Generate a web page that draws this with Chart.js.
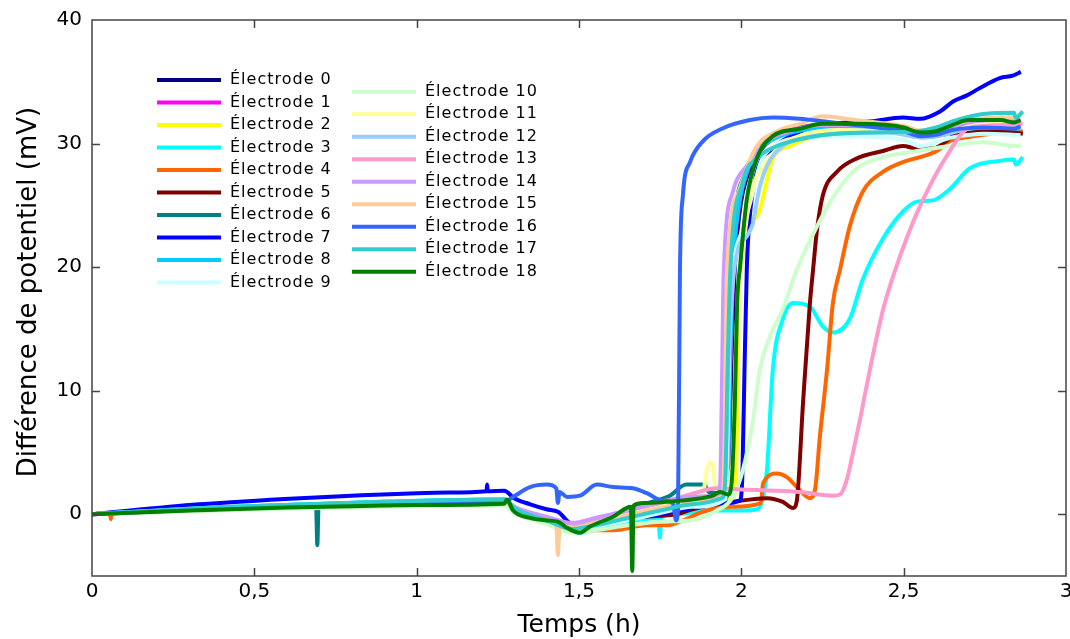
<!DOCTYPE html>
<html lang="fr">
<head>
<meta charset="utf-8">
<title>Différence de potentiel</title>
<script src="https://cdn.jsdelivr.net/npm/chart.js@4.4.1/dist/chart.umd.min.js"></script>
<style>
  html, body { margin: 0; padding: 0; background: #fff; }
  .wrap { position: relative; width: 1070px; height: 639px; }
</style>
</head>
<body>
<div class="wrap"><canvas id="chart"></canvas></div>
<script>
/* =========================
   DATA  [temps (h), mV]
========================= */
const xTicks = [0, 0.5, 1, 1.5, 2, 2.5, 3];
const yTicks = [0, 10, 20, 30, 40];

const e0 = [[0,0],[0.3,0.4],[0.6,0.65],[0.9,0.85],[1.27,1.1],[1.3,0.5],[1.4,-0.5],[1.48,-1.1],[1.55,-0.8],[1.65,-0.2],[1.75,0.4],[1.85,0.9],[1.95,1.3],[1.962,2.5],[1.97,12],[1.978,19],[1.995,24.5],[2.02,27.5],[2.06,29.5],[2.12,30.7],[2.25,31.4],[2.4,31.3],[2.5,31.1],[2.56,30.7],[2.62,30.9],[2.7,31.5],[2.8,31.6],[2.86,31.5]];
const e1 = [[0,0],[0.3,0.35],[0.6,0.6],[0.9,0.8],[1.27,1.0],[1.3,0.4],[1.4,-0.6],[1.48,-1.2],[1.55,-0.8],[1.65,-0.3],[1.75,0.4],[1.85,0.9],[1.94,1.3],[1.958,2.5],[1.966,12],[1.974,19],[1.99,24.5],[2.015,27.5],[2.06,29.7],[2.12,30.8],[2.25,31.5],[2.4,31.4],[2.5,31.2],[2.56,30.8],[2.62,31.0],[2.7,31.7],[2.8,31.8],[2.86,31.7]];
const e2 = [[0,0],[0.3,0.4],[0.6,0.7],[0.9,0.9],[1.27,1.2],[1.3,0.5],[1.4,-0.4],[1.48,-1.0],[1.55,-0.7],[1.65,-0.1],[1.75,0.5],[1.85,0.9],[1.96,1.2],[1.982,1.8],[1.987,8],[1.993,19],[2.048,24.1],[2.097,28.8],[2.15,29.8],[2.25,30.8],[2.4,31.2],[2.5,31.1],[2.56,30.6],[2.62,30.9],[2.7,31.6],[2.8,31.8],[2.86,31.7]];
const e3 = [[0,0],[0.3,0.45],[0.6,0.75],[1.0,1.1],[1.27,1.2],[1.3,0.5],[1.4,-0.6],[1.45,-1.2],[1.5,-1.5],[1.55,-1.2],[1.6,-0.8],[1.7,-0.4],[1.745,-0.3],[1.749,-1.9],[1.753,-0.2],[1.8,0.0],[1.9,0.3],[2.0,0.3],[2.05,0.4],[2.064,1.1],[2.079,3.6],[2.097,11.7],[2.128,15.8],[2.159,17.1],[2.211,16.8],[2.251,15.2],[2.282,14.7],[2.334,15.8],[2.374,19],[2.436,22.3],[2.498,24.5],[2.541,25.3],[2.59,25.4],[2.642,26.3],[2.704,28],[2.796,28.6],[2.84,28.7],[2.845,28.3],[2.867,28.9]];
const e4 = [[0,0],[0.055,0.1],[0.058,-0.4],[0.062,0.1],[0.3,0.3],[0.6,0.55],[0.9,0.75],[1.27,0.9],[1.3,0.3],[1.4,-0.6],[1.45,-1.2],[1.503,-1.4],[1.55,-1.3],[1.605,-1.3],[1.709,-0.9],[1.77,-0.9],[1.811,-0.6],[1.872,0.1],[1.925,0.5],[1.974,0.6],[2.06,0.9],[2.067,2.5],[2.11,3.3],[2.14,3.0],[2.171,2.2],[2.211,1.3],[2.227,2.0],[2.242,6.3],[2.264,11.7],[2.282,17.1],[2.304,19.8],[2.334,23.3],[2.374,26.1],[2.436,27.7],[2.498,28.5],[2.55,28.9],[2.602,29.4],[2.642,30.2],[2.695,30.5],[2.8,30.9],[2.867,31.0]];
const e5 = [[0,0],[0.3,0.35],[0.6,0.6],[0.9,0.8],[1.27,1.0],[1.3,0.3],[1.4,-0.6],[1.48,-1.1],[1.55,-0.9],[1.6,-0.5],[1.7,-0.2],[1.8,0.0],[1.85,0.4],[1.974,1.0],[2.079,1.3],[2.128,1.0],[2.159,0.5],[2.171,1.1],[2.19,9],[2.211,17],[2.221,19.8],[2.233,23],[2.251,25.8],[2.294,27.7],[2.356,28.8],[2.436,29.4],[2.498,29.8],[2.541,29.6],[2.59,29.6],[2.682,31],[2.787,31],[2.867,30.8]];
const e6 = [[0,0],[0.3,0.4],[0.6,0.7],[0.69,0.75],[0.694,-2.5],[0.698,0.75],[0.9,0.9],[1.27,1.1],[1.3,0.5],[1.4,-0.5],[1.5,-1.1],[1.6,-0.3],[1.7,0.8],[1.78,1.5],[1.83,2.4],[1.885,2.4],[1.9,1.8],[1.95,1.7],[1.958,5],[1.965,17],[1.98,24],[2.01,27.5],[2.06,29.8],[2.12,30.8],[2.25,31.3],[2.45,31.2],[2.55,30.6],[2.65,31.3],[2.75,31.7],[2.86,31.8]];
const e7 = [[0,0],[0.33,0.8],[0.64,1.3],[1.0,1.7],[1.1,1.75],[1.215,1.85],[1.217,2.4],[1.219,1.85],[1.27,1.9],[1.3,1.3],[1.35,0.8],[1.4,0.4],[1.435,0.2],[1.48,-0.8],[1.55,-0.8],[1.65,-0.4],[1.75,0.0],[1.85,0.5],[1.95,0.9],[1.995,1.1],[2.003,3],[2.01,12],[2.017,20],[2.026,24.1],[2.048,27.7],[2.097,29.6],[2.159,30.7],[2.25,31.5],[2.4,31.8],[2.498,32.1],[2.55,32.0],[2.612,32.6],[2.652,33.4],[2.695,33.9],[2.735,34.5],[2.796,35.3],[2.836,35.5],[2.861,35.8]];
const e8 = [[0,0],[0.3,0.45],[0.6,0.75],[0.9,1.0],[1.27,1.2],[1.3,0.6],[1.4,-0.5],[1.48,-1.2],[1.55,-0.9],[1.65,-0.3],[1.75,0.3],[1.85,0.8],[1.95,1.2],[1.958,2.5],[1.965,12],[1.972,19],[1.99,24.5],[2.015,27.5],[2.06,29.6],[2.12,30.6],[2.25,31.2],[2.4,31.1],[2.5,30.9],[2.56,30.5],[2.62,30.7],[2.7,31.2],[2.8,31.3],[2.86,31.2]];
const e9 = [[0,0],[0.3,0.3],[0.6,0.55],[0.9,0.7],[1.27,0.9],[1.3,0.3],[1.4,-0.7],[1.48,-1.3],[1.55,-1.0],[1.65,-0.5],[1.75,0.1],[1.85,0.6],[1.95,1.2],[1.957,5],[1.965,17],[1.98,21],[2.0,22.8],[2.03,25.5],[2.06,28.5],[2.1,29.8],[2.2,30.5],[2.3,30.6],[2.5,30.3],[2.55,29.8],[2.65,30.5],[2.75,30.8],[2.86,30.7]];
const e10 = [[0,0],[0.3,0.25],[0.6,0.45],[0.9,0.6],[1.27,0.7],[1.3,0.1],[1.4,-0.8],[1.48,-1.5],[1.55,-1.3],[1.65,-0.9],[1.75,-0.6],[1.842,-0.5],[1.925,0.3],[1.974,1.4],[2.005,3.6],[2.036,7.6],[2.057,11.7],[2.088,14.4],[2.128,16.6],[2.171,19.8],[2.233,23.3],[2.294,26.1],[2.356,28],[2.436,28.9],[2.541,29.4],[2.642,29.8],[2.744,30.1],[2.849,29.8],[2.861,29.9]];
const e11 = [[0,0],[0.3,0.35],[0.6,0.65],[0.9,0.85],[1.27,1.1],[1.3,0.5],[1.4,-0.4],[1.48,-1.0],[1.55,-0.6],[1.65,0.0],[1.75,0.7],[1.85,1.2],[1.88,1.4],[1.894,3.6],[1.903,4.2],[1.912,4.0],[1.92,2.2],[1.95,2.0],[1.972,4],[1.985,15],[2.0,20],[2.026,25.5],[2.07,28.2],[2.12,29.8],[2.2,30.8],[2.3,31.1],[2.45,31.0],[2.55,30.6],[2.62,30.9],[2.7,31.5],[2.8,31.7],[2.86,31.6]];
const e12 = [[0,0],[0.3,0.4],[0.6,0.7],[0.9,0.9],[1.27,1.1],[1.3,0.5],[1.4,-0.5],[1.48,-1.1],[1.55,-0.7],[1.65,-0.1],[1.75,0.5],[1.85,0.9],[1.93,1.2],[1.95,3],[1.96,12],[1.975,19],[1.99,21.5],[2.017,22.5],[2.035,23.5],[2.055,26.3],[2.079,28.2],[2.128,29.8],[2.2,30.5],[2.3,30.8],[2.45,30.9],[2.55,30.5],[2.62,30.7],[2.7,31.2],[2.8,31.4],[2.86,31.3]];
const e13 = [[0,0],[0.3,0.35],[0.6,0.6],[0.9,0.8],[1.27,1.0],[1.3,0.5],[1.4,-0.3],[1.48,-0.8],[1.55,-0.4],[1.65,0.3],[1.75,0.9],[1.842,1.6],[1.925,2.1],[2.0,2.0],[2.18,1.8],[2.282,1.5],[2.304,1.6],[2.325,2.8],[2.34,4.5],[2.365,7.6],[2.396,11.7],[2.436,16.5],[2.458,18.5],[2.528,23.6],[2.581,26.6],[2.633,29],[2.695,31.2],[2.735,31.4],[2.8,31.5],[2.867,31.6]];
const e14 = [[0,0],[0.3,0.4],[0.6,0.7],[0.9,0.9],[1.27,1.1],[1.3,0.6],[1.4,-0.2],[1.48,-0.7],[1.55,-0.3],[1.65,0.3],[1.75,1.0],[1.85,1.4],[1.925,1.5],[1.935,2.5],[1.94,10],[1.945,19],[1.974,26.1],[2.017,28.2],[2.079,30.2],[2.15,31],[2.25,31.5],[2.4,31.4],[2.5,31.2],[2.56,30.8],[2.62,31.0],[2.7,31.7],[2.8,31.9],[2.86,31.8]];
const e15 = [[0,0],[0.3,0.35],[0.6,0.65],[0.9,0.85],[1.27,1.0],[1.3,0.4],[1.4,-0.5],[1.43,-0.8],[1.435,-3.3],[1.44,-0.9],[1.48,-1.1],[1.55,-0.7],[1.65,-0.1],[1.75,0.5],[1.85,1.0],[1.94,1.4],[1.948,5],[1.955,19],[1.99,26],[2.043,29.6],[2.11,31],[2.18,31.6],[2.251,32.2],[2.35,31.9],[2.45,31.6],[2.5,31.4],[2.56,31.0],[2.62,31.2],[2.7,31.9],[2.8,32.1],[2.86,32.1]];
const e16 = [[0,0],[0.3,0.35],[0.6,0.6],[0.9,0.8],[1.27,1.0],[1.297,1.4],[1.349,2.2],[1.401,2.4],[1.43,2.1],[1.435,0.9],[1.44,1.8],[1.463,1.4],[1.503,1.5],[1.555,2.4],[1.605,2.2],[1.666,2.1],[1.709,1.7],[1.758,1.1],[1.789,0.9],[1.799,-0.5],[1.805,0.5],[1.811,19.8],[1.82,25.8],[1.842,28.5],[1.882,30.2],[1.94,31.2],[2.026,31.9],[2.097,32.1],[2.18,32],[2.251,31.8],[2.35,31.5],[2.45,31.2],[2.5,31.0],[2.55,30.6],[2.6,30.7],[2.65,31.1],[2.75,31.3],[2.84,31.2],[2.86,31.4]];
const e17 = [[0,0],[0.3,0.45],[0.6,0.75],[0.9,1.0],[1.27,1.2],[1.3,0.5],[1.4,-0.5],[1.48,-1.2],[1.55,-0.9],[1.65,-0.3],[1.75,0.3],[1.85,0.8],[1.94,1.3],[1.95,2.5],[1.958,12],[1.965,19],[2.005,26.9],[2.048,28.8],[2.11,29.8],[2.251,30.7],[2.4,30.9],[2.541,31.0],[2.6,31.3],[2.65,31.8],[2.744,32.4],[2.84,32.5],[2.845,32.1],[2.867,32.6]];
const e18 = [[0,0],[0.3,0.3],[0.6,0.55],[0.9,0.7],[1.0,0.75],[1.27,0.85],[1.278,1.2],[1.297,0.3],[1.349,-0.3],[1.401,-0.5],[1.435,-0.6],[1.463,-1.1],[1.503,-1.5],[1.534,-1.0],[1.605,-0.2],[1.66,0.6],[1.664,-4.6],[1.668,0.7],[1.7,0.9],[1.811,1.1],[1.912,1.5],[1.934,1.8],[1.96,1.6],[1.97,2.5],[1.98,9],[1.987,17],[1.996,20],[2.017,25.5],[2.048,28.8],[2.097,30.6],[2.18,31.2],[2.25,31.6],[2.35,31.6],[2.45,31.5],[2.5,31.3],[2.55,30.9],[2.6,31.0],[2.65,31.5],[2.7,31.9],[2.8,31.9],[2.84,31.7],[2.86,31.9]];

const series = [e0, e1, e2, e3, e4, e5, e6, e7, e8, e9, e10, e11, e12, e13, e14, e15, e16, e17, e18];
const colors = ["#000080", "#ff00ff", "#ffff00", "#00ffff", "#ff6600", "#800000", "#008080", "#0000ff", "#00ccff", "#ccffff",
  "#ccffcc", "#ffff99", "#99ccff", "#ff99cc", "#cc99ff", "#ffcc99", "#3366ff", "#33cccc", "#008000"];
const labels = series.map((s, i) => "Électrode " + i);

const FONT = "'DejaVu Sans', 'Liberation Sans', sans-serif";

/* =========================
   CADRE + LEGENDE + TITRES
========================= */
const framePlugin = {
  id: "frame",
  afterDraw(chart) {
    const { ctx, chartArea: a, scales } = chart;
    ctx.save();

    // cadre
    ctx.strokeStyle = "#444";
    ctx.lineWidth = 1.5;
    ctx.strokeRect(a.left, a.top, a.right - a.left, a.bottom - a.top);

    // graduations vers l'interieur
    ctx.beginPath();
    xTicks.slice(1, -1).forEach((v) => {
      const x = Math.round(scales.x.getPixelForValue(v)) + 0.5;
      ctx.moveTo(x, a.bottom); ctx.lineTo(x, a.bottom - 8);
      ctx.moveTo(x, a.top); ctx.lineTo(x, a.top + 8);
    });
    yTicks.slice(0, -1).forEach((v) => {
      const y = Math.round(scales.y.getPixelForValue(v)) + 0.5;
      ctx.moveTo(a.left, y); ctx.lineTo(a.left + 8, y);
      ctx.moveTo(a.right, y); ctx.lineTo(a.right - 8, y);
    });
    ctx.stroke();

    // legende en deux colonnes
    ctx.font = "16px " + FONT;
    ctx.letterSpacing = "1px";
    ctx.textBaseline = "middle";
    ctx.textAlign = "left";
    ctx.lineWidth = 4;
    labels.forEach((lab, i) => {
      const col = i < 10 ? 0 : 1;
      const row = col ? i - 10 : i;
      const x = col ? 352 : 157;
      const y = (col ? 91.7 : 80) + row * 22.5;
      ctx.strokeStyle = colors[i];
      ctx.beginPath();
      ctx.moveTo(x, y); ctx.lineTo(x + 64, y);
      ctx.stroke();
      ctx.fillStyle = "#000";
      ctx.fillText(lab, x + 73, y);
    });
    ctx.letterSpacing = "0px";

    // titres des axes
    ctx.fillStyle = "#000";
    ctx.textAlign = "center";
    ctx.textBaseline = "middle";
    ctx.font = "25px " + FONT;
    ctx.fillText("Temps (h)", (a.left + a.right) / 2, 625);
    ctx.font = "26px " + FONT;
    ctx.translate(29, (a.top + a.bottom) / 2 - 6);
    ctx.rotate(-Math.PI / 2);
    ctx.fillText("Différence de potentiel (mV)", 0, 0);

    ctx.restore();
  },
};

/* =========================
   CHART
========================= */
new Chart(document.getElementById("chart"), {
  type: "line",
  data: {
    datasets: series.map((s, i) => ({
      label: labels[i],
      data: s.map((p) => ({ x: p[0], y: p[1] })),
      borderColor: colors[i],
      borderWidth: 4,
      pointRadius: 0,
      fill: false,
      cubicInterpolationMode: "monotone",
      order: -i,
    })),
  },
  options: {
    responsive: true,
    maintainAspectRatio: false,
    animation: false,
    layout: { padding: { top: 20, right: 4, left: 0, bottom: 0 } },
    plugins: { legend: { display: false }, tooltip: { enabled: false } },
    scales: {
      x: {
        type: "linear",
        min: 0,
        max: 3,
        grid: { display: false, drawTicks: false },
        border: { display: false },
        ticks: {
          color: "#000",
          padding: 4,
          font: { family: FONT, size: 20 },
          callback: (v) => String(v).replace(".", ","),
        },
        afterBuildTicks: (scale) => { scale.ticks = xTicks.map((v) => ({ value: v })); },
        afterFit: (scale) => { scale.height = 63; scale.paddingLeft = 0; scale.paddingRight = 0; },
      },
      y: {
        min: -5,
        max: 40,
        grid: { display: false, drawTicks: false },
        border: { display: false },
        ticks: {
          color: "#000",
          padding: 10,
          font: { family: FONT, size: 20 },
        },
        afterBuildTicks: (scale) => { scale.ticks = yTicks.map((v) => ({ value: v })); },
        afterFit: (scale) => { scale.width = 92; scale.paddingTop = 0; scale.paddingBottom = 0; },
      },
    },
  },
  plugins: [framePlugin],
});
</script>
</body>
</html>
